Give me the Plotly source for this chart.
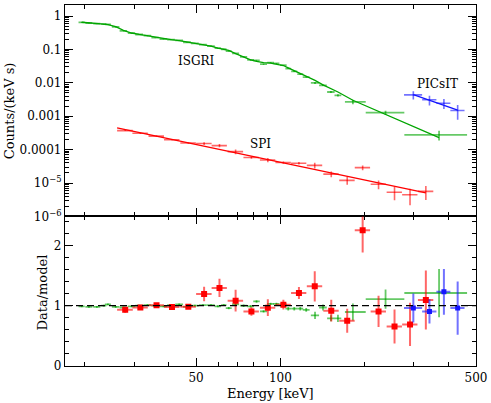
import plotly.graph_objects as go

# ---------------- ISGRI (green) ----------------
isgri_E = [19.5, 20.7, 22.1, 23.4, 24.2, 25.8, 27.5, 29.4, 31.3, 33.5,
           35.7, 38.2, 40.7, 43.5, 46.4, 49.5, 52.9, 56.5, 59.8, 62.8,
           65.4, 69.2, 73.9, 78.3, 82.2, 87.1, 92.3, 96.8, 102.5, 106.7,
           112.1, 117.8, 123.7, 133.0, 142.0, 151.6, 160.6, 181.6, 237.6, 369.0]
isgri_dE_lo = [0.5, 0.6, 0.65, 0.5, 0.6, 0.8, 0.85, 0.9, 1.0, 1.05,
               1.1, 1.2, 1.3, 1.4, 1.5, 1.6, 1.7, 1.8, 1.6, 1.4,
               1.6, 2.0, 2.2, 2.2, 2.2, 2.5, 2.6, 2.4, 2.8, 2.5,
               2.8, 2.9, 3.5, 4.5, 4.5, 4.7, 4.5, 11.5, 35.8, 91.7]
isgri_dE_hi = [0.5, 0.6, 0.65, 0.5, 0.6, 0.8, 0.85, 0.9, 1.0, 1.05,
               1.1, 1.2, 1.3, 1.4, 1.5, 1.6, 1.7, 1.8, 1.6, 1.4,
               1.6, 2.0, 2.2, 2.2, 2.2, 2.5, 2.6, 2.4, 2.8, 2.5,
               2.8, 2.9, 3.5, 4.5, 4.5, 4.7, 4.5, 20.2, 39.7, 95.6]
isgri_model = [0.65, 0.63, 0.60, 0.57, 0.55, 0.48, 0.37, 0.31, 0.28, 0.255,
               0.225, 0.207, 0.195, 0.183, 0.167, 0.152, 0.139, 0.125, 0.110, 0.100,
               0.093, 0.075, 0.060, 0.049, 0.044, 0.040, 0.039, 0.037, 0.033, 0.028,
               0.023, 0.019, 0.016, 0.0118, 0.0087, 0.0067, 0.0053, 0.0030, 0.00115, 0.00023]
isgri_cnt = [0.644, 0.617, 0.588, 0.57, 0.561, 0.470, 0.359, 0.307, 0.28, 0.258,
             0.225, 0.205, 0.197, 0.187, 0.164, 0.152, 0.140, 0.126, 0.109, 0.101,
             0.0893, 0.0765, 0.060, 0.0485, 0.0471, 0.0362, 0.0402, 0.0381, 0.0337, 0.0266,
             0.0219, 0.0181, 0.0149, 0.0099, 0.0084, 0.0053, 0.0042, 0.0027, 0.00128, 0.000278]
isgri_cnt_err = [0.0098, 0.0095, 0.009, 0.0086, 0.0083, 0.0072, 0.0056, 0.0047, 0.0042, 0.0038,
                 0.0034, 0.0031, 0.0029, 0.0027, 0.0025, 0.0023, 0.0021, 0.0019, 0.0017, 0.0015,
                 0.0019, 0.0015, 0.0012, 0.001, 0.0009, 0.0008, 0.0008, 0.0007, 0.0007, 0.00084,
                 0.0007, 0.00057, 0.00048, 0.00071, 0.00044, 0.00034, 0.00032, 0.00042, 0.00018, 0.000092]
isgri_ratio = [0.99, 0.98, 0.98, 1.00, 1.02, 0.98, 0.97, 0.99, 1.00, 1.01,
               1.00, 0.99, 1.01, 1.02, 0.98, 1.00, 1.01, 1.01, 0.99, 1.01,
               0.96, 1.02, 1.00, 0.99, 1.07, 0.905, 1.03, 1.03, 1.02, 0.95,
               0.95, 0.95, 0.93, 0.84, 0.97, 0.79, 0.79, 0.895, 1.11, 1.21]
isgri_ratio_err = [0.015] * 20 + [0.02] * 9 + [0.03, 0.03, 0.03, 0.03,
                   0.06, 0.05, 0.05, 0.06, 0.14, 0.16, 0.40]

# ---------------- SPI (red) ----------------
spi_E = [27.9, 31.6, 36.1, 41.0, 46.9, 53.4, 60.6, 69.2, 78.8, 90.2,
         102.5, 116.5, 132.7, 152.0, 173.3, 196.8, 224.3, 255.8, 290.6, 331.0]
spi_dE = [1.8, 2.0, 2.3, 2.6, 3.0, 3.4, 3.8, 4.4, 5.0, 5.7,
          6.5, 7.3, 8.4, 9.6, 11.0, 12.4, 14.1, 16.1, 18.3, 20.9]
spi_cnt = [3.71e-4, 3.10e-4, 2.54e-4, 1.98e-4, 1.57e-4, 1.52e-4, 1.32e-4, 8.7e-5, 5.8e-5, 4.88e-5,
           4.10e-5, 3.90e-5, 3.38e-5, 1.85e-5, 1.20e-5, 2.89e-5, 9.2e-6, 5.3e-6, 4.45e-6, 5.6e-6]
spi_cnt_err = [1.2e-5, 1.0e-5, 7.6e-6, 6e-6, 4.8e-6, 1.5e-5, 1.5e-5, 1.45e-5, 4.5e-6, 7e-6,
               3.2e-6, 3.2e-6, 6.4e-6, 3.6e-6, 3.2e-6, 4.7e-6, 2.65e-6, 2.26e-6, 2.3e-6, 2.5e-6]
spi_ratio = [0.933, 0.97, 1.005, 0.978, 0.983, 1.195, 1.295, 1.083, 0.905, 0.967,
             1.017, 1.21, 1.32, 0.917, 0.75, 2.25, 0.905, 0.655, 0.69, 1.095]
spi_ratio_err = [0.05, 0.04, 0.04, 0.04, 0.04, 0.12, 0.15, 0.18, 0.07, 0.14,
                 0.08, 0.10, 0.25, 0.18, 0.20, 0.37, 0.26, 0.28, 0.36, 0.49]
spi_model_E = [26.1, 331.0]
spi_model = [4.5e-4, 5.1e-6]

# ---------------- PICsIT (blue) ----------------
pic_E = [298.6, 341.0, 384.0, 430.0]
pic_dE_lo = [22.0, 20.0, 23.0, 25.0]
pic_dE_hi = [22.4, 20.0, 21.0, 25.0]
pic_cnt = [4.35e-3, 3.1e-3, 2.45e-3, 1.48e-3]
pic_cnt_err = [1.2e-3, 1.0e-3, 0.8e-3, 0.7e-3]
pic_ratio = [0.96, 0.905, 1.23, 0.96]
pic_ratio_err = [0.24, 0.20, 0.38, 0.44]
pic_model_E = [298.6, 430.0]
pic_model = [4.45e-3, 1.53e-3]

# tick labels
x_tick_vals = [50, 100, 500]
x_tick_text = ["50", "100", "500"]
y_top_tick_vals = [1, 0.1, 0.01, 0.001, 0.0001, 1e-5, 1e-6]
y_top_tick_text = ["1", "0.1", "0.01", "0.001", "0.0001",
                   "10<sup>−5</sup>", "10<sup>−6</sup>"]
y_bot_tick_vals = [0, 1, 2]

GREEN = "rgb(0,165,0)"
GREEN_E = "rgba(0,165,0,0.6)"
RED = "rgb(255,0,0)"
RED_E = "rgba(255,0,0,0.6)"
BLUE = "rgb(20,20,255)"
BLUE_E = "rgba(20,20,255,0.6)"
FONT = "DejaVu Serif"

fig = go.Figure()


def data_trace(x, y, xlo, xhi, yerr, col, ecol, xa, ya, msym=None, msize=1, th=1.6):
    return go.Scatter(
        x=x, y=y, mode="markers", xaxis=xa, yaxis=ya,
        marker=dict(size=msize if msym else 1, color=col if msym else ecol,
                    symbol=msym or "circle", line=dict(width=0)),
        error_x=dict(type="data", array=xhi, arrayminus=xlo, color=ecol,
                     thickness=th, width=0),
        error_y=dict(type="data", array=yerr, color=ecol, thickness=th, width=0),
        showlegend=False, hoverinfo="skip")


# top panel
fig.add_trace(data_trace(isgri_E, isgri_cnt, isgri_dE_lo, isgri_dE_hi, isgri_cnt_err,
                         GREEN, GREEN_E, "x", "y", th=1.8))
fig.add_trace(go.Scatter(x=isgri_E, y=isgri_model, mode="lines", xaxis="x", yaxis="y",
                         line=dict(color=GREEN, width=1.3), showlegend=False))
fig.add_trace(data_trace(spi_E, spi_cnt, spi_dE, spi_dE, spi_cnt_err,
                         RED, RED_E, "x", "y"))
fig.add_trace(go.Scatter(x=spi_model_E, y=spi_model, mode="lines", xaxis="x", yaxis="y",
                         line=dict(color=RED, width=1.3), showlegend=False))
fig.add_trace(data_trace(pic_E, pic_cnt, pic_dE_lo, pic_dE_hi, pic_cnt_err,
                         BLUE, BLUE_E, "x", "y"))
fig.add_trace(go.Scatter(x=pic_model_E, y=pic_model, mode="lines", xaxis="x", yaxis="y",
                         line=dict(color=BLUE, width=1.3), showlegend=False))

# bottom panel
fig.add_trace(data_trace(isgri_E, isgri_ratio, isgri_dE_lo, isgri_dE_hi, isgri_ratio_err,
                         GREEN, GREEN_E, "x2", "y2", th=1.8))
fig.add_trace(data_trace(spi_E, spi_ratio, spi_dE, spi_dE, spi_ratio_err,
                         RED, RED_E, "x2", "y2", msym="square", msize=6, th=2))
fig.add_trace(data_trace(pic_E, pic_ratio, pic_dE_lo, pic_dE_hi, pic_ratio_err,
                         BLUE, BLUE_E, "x2", "y2", msym="square", msize=5, th=2))

# empty traces so that the mirrored (top/right) tick axes are drawn
fig.add_trace(go.Scatter(x=[], y=[], xaxis="x3", yaxis="y3", showlegend=False,
                         hoverinfo="skip"))
fig.add_trace(go.Scatter(x=[], y=[], xaxis="x4", yaxis="y4", showlegend=False,
                         hoverinfo="skip"))

split = 0.4144
xrange_log = [1.2305, 2.699]
ytop_range = [-6, 0.33]
ybot_range = [0, 2.48]

axis_common = dict(showline=True, linecolor="black", linewidth=1.2, mirror=True,
                   ticks="inside", ticklen=8, tickwidth=1, tickcolor="black",
                   showgrid=False, zeroline=False,
                   tickfont=dict(family=FONT, size=12, color="black"))
mirror_common = dict(showline=False, ticks="inside", ticklen=8, tickwidth=1,
                     tickcolor="black", showgrid=False, zeroline=False,
                     showticklabels=False)

x_minor = [20, 30, 40, 60, 70, 80, 90, 200, 300, 400]
y_minor = []
for p in range(-6, 1):
    for m in range(2, 10):
        y_minor.append(m * 10 ** p)

xminor = dict(tickmode="array", tickvals=x_minor, ticks="inside",
              ticklen=4, tickcolor="black")
yminor_top = dict(tickmode="array", tickvals=y_minor, ticks="inside",
                  ticklen=4, tickcolor="black")
yminor_bot = dict(dtick=0.2, ticks="inside", ticklen=4, tickcolor="black")

TITLE_FONT = dict(family=FONT, size=13, color="black")
LABEL_FONT = dict(family=FONT, size=12, color="black")

fig.update_layout(
    width=491, height=403,
    margin=dict(l=65, r=12, t=4, b=37),
    paper_bgcolor="white", plot_bgcolor="white",
    xaxis=dict(domain=[0, 1], anchor="y", type="log", range=xrange_log,
               tickvals=x_tick_vals, showticklabels=False, minor=xminor,
               **axis_common),
    yaxis=dict(domain=[split, 1], anchor="x", type="log", range=ytop_range,
               tickvals=y_top_tick_vals, ticktext=y_top_tick_text,
               minor=yminor_top, **axis_common),
    xaxis2=dict(domain=[0, 1], anchor="y2", type="log", range=xrange_log,
                tickvals=x_tick_vals, ticktext=x_tick_text, minor=xminor,
                **axis_common),
    yaxis2=dict(domain=[0, split], anchor="x2", range=ybot_range,
                tickvals=y_bot_tick_vals, minor=yminor_bot, **axis_common),
    # mirrored tick axes (top / right)
    xaxis3=dict(domain=[0, 1], anchor="y3", overlaying="x", side="top", type="log",
                range=xrange_log, tickvals=x_tick_vals, minor=xminor, **mirror_common),
    yaxis3=dict(domain=[split, 1], anchor="x3", overlaying="y", side="right", type="log",
                range=ytop_range, tickvals=y_top_tick_vals, minor=yminor_top,
                **mirror_common),
    xaxis4=dict(domain=[0, 1], anchor="y4", overlaying="x2", side="top", type="log",
                range=xrange_log, tickvals=x_tick_vals, minor=xminor, **mirror_common),
    yaxis4=dict(domain=[0, split], anchor="x4", overlaying="y2", side="right",
                range=ybot_range, tickvals=y_bot_tick_vals, minor=yminor_bot,
                **mirror_common),
    shapes=[dict(type="line", xref="x2 domain", x0=0, x1=1, yref="y2", y0=1, y1=1,
                 line=dict(color="black", width=1.3, dash="7px,4px"), layer="above")],
    annotations=[
        dict(text="Counts/(keV s)", xref="paper", yref="paper", x=-0.135, y=0.707,
             textangle=-90, showarrow=False, xanchor="center", yanchor="middle",
             font=TITLE_FONT),
        dict(text="Data/model", xref="paper", yref="paper", x=-0.0556, y=0.204,
             textangle=-90, showarrow=False, xanchor="center", yanchor="middle",
             font=TITLE_FONT),
        dict(text="Energy [keV]", xref="paper", yref="paper", x=0.501, y=-0.077,
             showarrow=False, xanchor="center", yanchor="middle",
             font=TITLE_FONT),
        dict(text="ISGRI", xref="x", yref="y", x=1.699, y=-1.34, showarrow=False,
             font=LABEL_FONT),
        dict(text="SPI", xref="x", yref="y", x=1.929, y=-3.84, showarrow=False,
             font=LABEL_FONT),
        dict(text="PICsIT", xref="x", yref="y", x=2.560, y=-2.025, showarrow=False,
             font=LABEL_FONT),
    ],
)

fig.write_html("out.html",
               config={"displayModeBar": False},
               post_script="document.body.style.margin='0px';"
                           "document.body.style.overflow='hidden';")
